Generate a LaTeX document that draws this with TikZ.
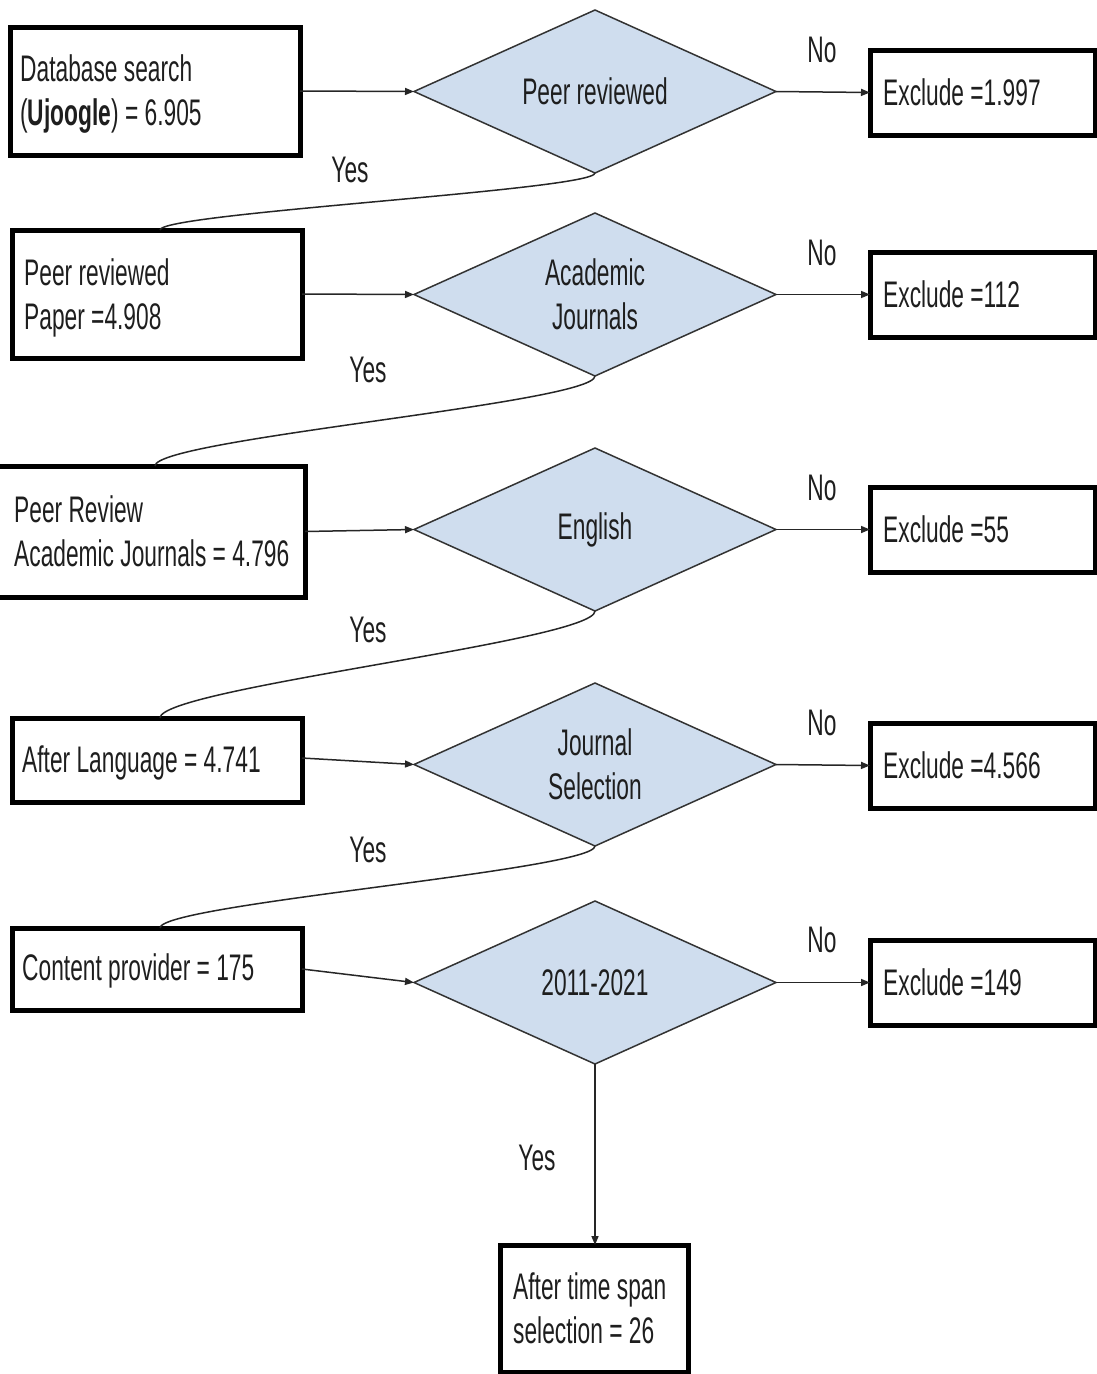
\documentclass[tikz,border=0pt]{standalone}
\usepackage{fontspec}
\setmainfont[FakeStretch=0.615]{Liberation Sans}
\usetikzlibrary{shapes.geometric,arrows.meta}
\definecolor{decfill}{RGB}{207,221,238}
\definecolor{ink}{RGB}{30,30,30}

\begin{document}
\begin{tikzpicture}[x=1pt,y=-1pt,
  font=\fontsize{37}{44}\selectfont, text=ink,
  box/.style={draw=black, line width=5pt, rectangle, outer sep=0pt,
              inner sep=0pt, anchor=north west},
  boxtext/.style={anchor=west, inner sep=0pt, align=left},
  decision/.style={diamond, draw=black!80, line width=1.5pt, fill=decfill,
              minimum width=362pt, minimum height=163pt, inner sep=0pt,
              outer sep=0pt, aspect=2.2, align=center},
  exclude/.style={box, minimum width=225pt, minimum height=85pt},
  flow/.style={line width=1.5pt, draw=black!85},
  arr/.style={flow, -{Triangle[length=9pt,width=7pt]}},
  lbl/.style={inner sep=0pt}]

\useasboundingbox (0,0) rectangle (1097,1374);

% counting boxes on the left
\node[box, minimum width=290pt, minimum height=128pt] (b1) at (10,27) {};
\node[box, minimum width=290pt, minimum height=128pt] (b2) at (12,230) {};
\node[box, minimum width=308pt, minimum height=131pt] (b3) at (-3,466) {};
\node[box, minimum width=290pt, minimum height=84pt]  (b4) at (12,718) {};
\node[box, minimum width=290pt, minimum height=82pt]  (b5) at (12,928) {};
\node[box, minimum width=188pt, minimum height=127pt] (b6) at (500,1245) {};

\node[boxtext] (t1) at ([xshift=10pt,yshift=-3pt]b1.west) {Database search\\(\textbf{Ujoogle}) = 6.905};
\node[boxtext] (t2) at ([xshift=12pt,yshift=-4pt]b2.west) {Peer reviewed\\Paper =4.908};
\node[boxtext] (t3) at ([xshift=17pt]b3.west) {Peer Review\\Academic Journals = 4.796};
\node[boxtext] (t4) at ([xshift=10pt,yshift=-3pt]b4.west) {After Language = 4.741};
\node[boxtext] (t5) at ([xshift=10pt,yshift=-2pt]b5.west) {Content provider = 175};
\node[boxtext] (t6) at ([xshift=13pt]b6.west) {After time span\\selection = 26};

% decisions
\node[decision] (d1) at (595,91.5) {Peer reviewed};
\node[decision] (d2) at (595,294.5) {Academic\\Journals};
\node[decision] (d3) at (595,529.5) {English};
\node[decision] (d4) at (595,764.5) {Journal\\Selection};
\node[decision] (d5) at (595,982.5) {2011-2021};

% excluded records
\node[exclude] (e1) at (870,50)  {};
\node[exclude] (e2) at (870,252) {};
\node[exclude] (e3) at (870,487) {};
\node[exclude] (e4) at (870,723) {};
\node[exclude] (e5) at (870,940) {};
\node[boxtext] (x1) at ([xshift=13pt]e1.west) {Exclude =1.997};
\node[boxtext] (x2) at ([xshift=13pt]e2.west) {Exclude =112};
\node[boxtext] (x3) at ([xshift=13pt]e3.west) {Exclude =55};
\node[boxtext] (x4) at ([xshift=13pt]e4.west) {Exclude =4.566};
\node[boxtext] (x5) at ([xshift=13pt]e5.west) {Exclude =149};

% into each decision
\draw[arr] (b1.east) -- (d1.west);
\draw[arr] (b2.east) -- (d2.west);
\draw[arr] (b3.east) -- (d3.west);
\draw[arr] ([yshift=2pt]b4.east) -- (d4.west);
\draw[arr] (b5.east) -- (d5.west);

% "No" branches
\draw[arr] (d1.east) -- (e1.west);
\draw[arr] (d2.east) -- (e2.west);
\draw[arr] (d3.east) -- (e3.west);
\draw[arr] (d4.east) -- (e4.west);
\draw[arr] (d5.east) -- (e5.west);

% "Yes" branches
\draw[flow] (d1.south) .. controls +(0,17) and +(0,-17) .. ([xshift=3pt]b2.north);
\draw[flow] (d2.south) .. controls +(0,27) and +(0,-27) .. ([xshift=4pt]b3.north);
\draw[flow] (d3.south) .. controls +(0,30) and +(0,-30) .. ([xshift=3pt]b4.north);
\draw[flow] (d4.south) .. controls +(0,24) and +(0,-24) .. ([xshift=3pt]b5.north);
\draw[arr] (d5.south) -- (b6.north -| d5.south);

% branch labels
\node[lbl] (n1) at (822,50)  {No};
\node[lbl] (n2) at (822,253) {No};
\node[lbl] (n3) at (822,488) {No};
\node[lbl] (n4) at (822,723) {No};
\node[lbl] (n5) at (822,940) {No};
\node[lbl] (y1) at (350,170) {Yes};
\node[lbl] (y2) at (368,370) {Yes};
\node[lbl] (y3) at (368,630) {Yes};
\node[lbl] (y4) at (368,850) {Yes};
\node[lbl] (y5) at (537,1158) {Yes};
\end{tikzpicture}
\end{document}
